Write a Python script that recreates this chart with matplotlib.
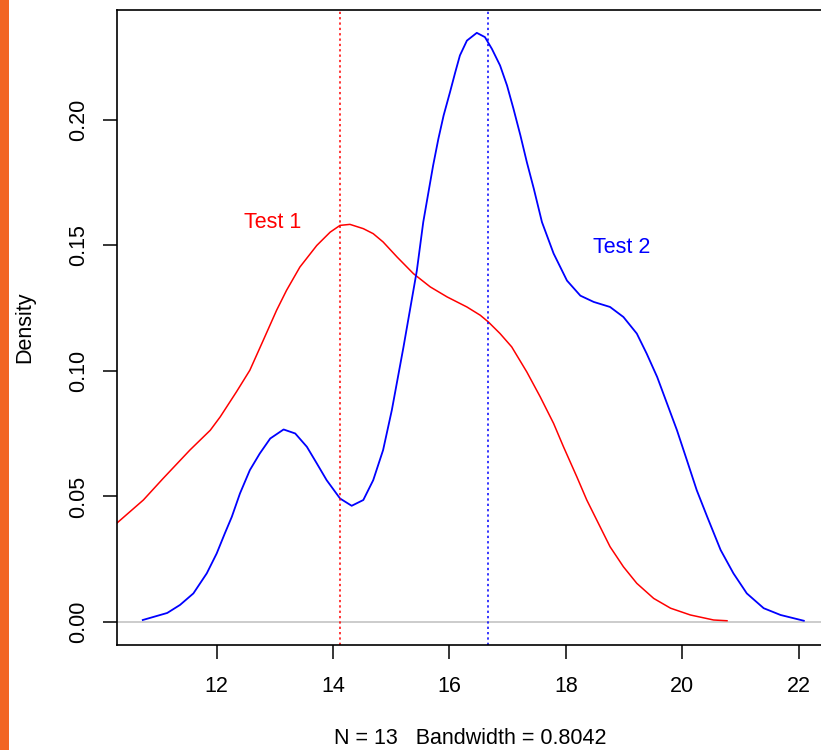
import matplotlib
matplotlib.use("Agg")
import matplotlib.pyplot as plt
from matplotlib.patches import Rectangle

plt.rcParams['font.family'] = ['Liberation Sans', 'DejaVu Sans']

# density curve of Test 1
test1_x = [10.28, 10.74, 11.08, 11.54, 11.89, 12.06, 12.34, 12.57, 12.80, 13.03,
           13.20, 13.43, 13.72, 13.95, 14.12, 14.29, 14.52, 14.69, 14.86, 15.10,
           15.38, 15.67, 15.96, 16.30, 16.53, 16.67, 16.87, 17.07, 17.33, 17.56,
           17.79, 17.96, 18.19, 18.36, 18.59, 18.76, 18.99, 19.22, 19.51, 19.80,
           20.14, 20.54, 20.77]
test1_y = [0.0393, 0.0486, 0.0572, 0.0685, 0.0764, 0.0817, 0.0917, 0.1003, 0.1122, 0.1242,
           0.1321, 0.1414, 0.1500, 0.1553, 0.1580, 0.1584, 0.1567, 0.1547, 0.1514, 0.1454,
           0.1388, 0.1335, 0.1295, 0.1255, 0.1222, 0.1195, 0.1149, 0.1096, 0.0996, 0.0897,
           0.0791, 0.0698, 0.0578, 0.0486, 0.0379, 0.0300, 0.0220, 0.0154, 0.0094, 0.0055,
           0.0028, 0.0008, 0.0005]

# density curve of Test 2
test2_x = [10.73, 10.91, 11.15, 11.37, 11.60, 11.83, 12.00, 12.14, 12.26, 12.40,
           12.57, 12.74, 12.92, 13.15, 13.35, 13.55, 13.72, 13.89, 14.12, 14.32,
           14.52, 14.69, 14.86, 15.01, 15.21, 15.44, 15.55, 15.64, 15.72, 15.81,
           15.90, 16.01, 16.10, 16.18, 16.30, 16.47, 16.61, 16.73, 16.87, 16.99,
           17.10, 17.22, 17.33, 17.45, 17.59, 17.79, 18.02, 18.25, 18.48, 18.76,
           18.99, 19.22, 19.39, 19.57, 19.74, 19.91, 20.08, 20.25, 20.43, 20.66,
           20.88, 21.11, 21.40, 21.69, 22.09]
test2_y = [0.0008, 0.0020, 0.0036, 0.0068, 0.0114, 0.0194, 0.0273, 0.0353, 0.0419, 0.0512,
           0.0605, 0.0671, 0.0731, 0.0767, 0.0751, 0.0698, 0.0632, 0.0565, 0.0492, 0.0463,
           0.0486, 0.0565, 0.0685, 0.0844, 0.1095, 0.1400, 0.1593, 0.1713, 0.1819, 0.1925,
           0.2018, 0.2111, 0.2190, 0.2257, 0.2316, 0.2347, 0.2330, 0.2283, 0.2217, 0.2137,
           0.2045, 0.1938, 0.1832, 0.1726, 0.1593, 0.1468, 0.1360, 0.1300, 0.1275, 0.1255,
           0.1215, 0.1149, 0.1069, 0.0976, 0.0870, 0.0764, 0.0645, 0.0525, 0.0419, 0.0287,
           0.0194, 0.0114, 0.0055, 0.0028, 0.0005]

means = [14.12, 16.66]
x_ticks = [12, 14, 16, 18, 20, 22]
y_ticks = [0.00, 0.05, 0.10, 0.15, 0.20]

fig = plt.figure(figsize=(8.21, 7.5), dpi=100)
fig.patches.append(Rectangle((0, 0), 8.5 / 821, 1, transform=fig.transFigure,
                             facecolor='#F26522', edgecolor='none'))

ax = fig.add_axes([117 / 821, 105 / 750, 713 / 821, 635 / 750])
ax.set_xlim(10.287, 22.54)
ax.set_ylim(-0.00916, 0.2438)

ax.axhline(0, color='#BEBEBE', lw=1.1)
ax.plot(test1_x, test1_y, color='red', lw=1.1)
ax.plot(test2_x, test2_y, color='blue', lw=1.3)
ax.axvline(means[0], color='red', lw=1.1, ls=(0, (1.5, 2)))
ax.axvline(means[1], color='blue', lw=1.1, ls=(0, (1.5, 2)))

ax.text(12.97, 0.159, 'Test 1', color='red', fontsize=15.5, ha='center', va='center')
ax.text(18.96, 0.149, 'Test 2', color='blue', fontsize=15.5, ha='center', va='center')

ax.set_xticks(x_ticks)
ax.set_yticks(y_ticks)
ax.set_yticklabels([f'{v:.2f}' for v in y_ticks], rotation=90, va='center')
ax.tick_params(axis='both', direction='out', length=10, width=1.1, labelsize=15.5, colors='black')
ax.tick_params(axis='x', pad=12)
ax.tick_params(axis='y', pad=10)
for s in ax.spines.values():
    s.set_linewidth(1.2)
ax.spines['right'].set_visible(False)

fig.text(470 / 821, 1 - 738 / 750, 'N = 13   Bandwidth = 0.8042', fontsize=15.5,
         ha='center', va='center')
fig.text(25 / 821, 1 - 327 / 750, 'Density', fontsize=15.5, rotation=90,
         ha='center', va='center')

fig.savefig('out.png', dpi=100)
